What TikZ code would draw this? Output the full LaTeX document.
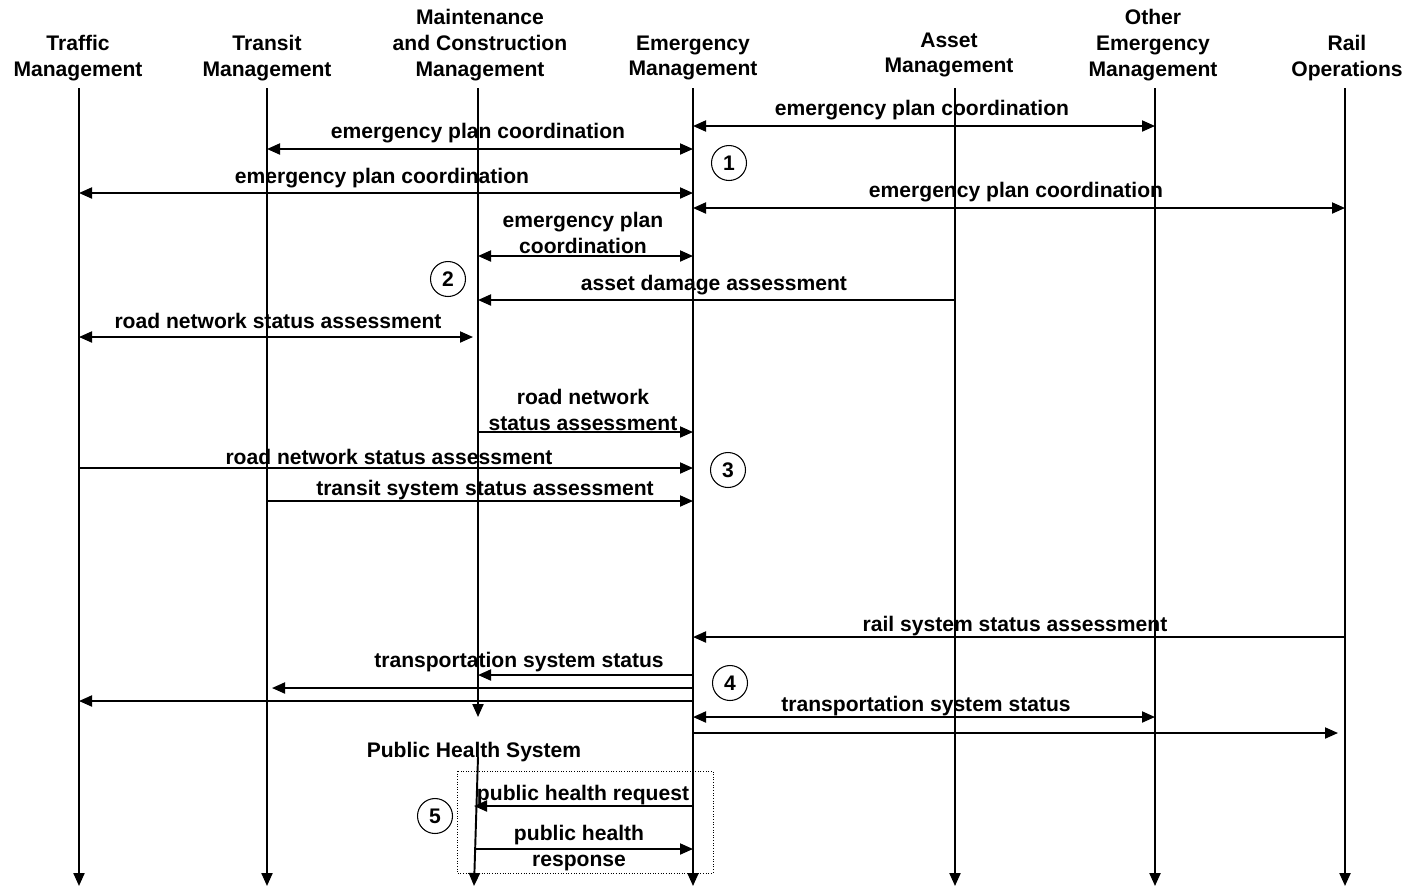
\documentclass[tikz,border=0pt]{standalone}
\usepackage{fontspec}
\setmainfont{Liberation Sans}
\usetikzlibrary{arrows.meta}

\begin{document}
\begin{tikzpicture}[x=0.02cm, y=-0.02cm,
    every node/.style={font=\fontsize{12}{14.7}\selectfont\bfseries, align=center},
    tip/.style={-{Triangle[length=7.4pt, width=6.3pt]}},
    life/.style={tip, line width=1.1pt},
    msg/.style={tip, line width=1pt},
    twoway/.style={msg, {Triangle[length=7.4pt, width=6.3pt]}-{Triangle[length=7.4pt, width=6.3pt]}},
    stepno/.style={draw, circle, line width=0.6pt, minimum size=0.7cm, inner sep=0pt}]
  \useasboundingbox (0,0) rectangle (1412,890);

  % actors and their lifelines
  \foreach \n/\lx/\ey/\hx/\hy/\txt in {traffic/79/886/78/58/{Traffic\\Management},
      transit/267/886/267/58/{Transit\\Management},
      maint/478/717/480/45/{Maintenance\\and Construction\\Management},
      emerg/693/886/693/58/{Emergency\\Management},
      asset/955/886/949/55/{Asset\\Management},
      other/1155/886/1153/45/{Other\\Emergency\\Management},
      rail/1345/886/1347/58/{Rail\\Operations}} {
    \node (\n-head) at (\hx,\hy) {\txt};
    \coordinate (\n) at (\lx,88);
    \coordinate (\n-end) at (\lx,\ey);
    \draw[life] (\n) -- (\n-end);
  }

  % public health joins late
  \node (phs-head) at (474,752) {Public Health System};
  \coordinate (phs) at (478,757);
  \coordinate (phs-end) at (474,886);
  \draw[life] (phs) -- (phs-end);

  % step numbers
  \foreach \k/\x/\y in {1/729/163, 2/448/279, 3/728/470, 4/730/683, 5/435/816}
    \node[stepno] (step\k) at (\x,\y) {\k};

  % 1: plan coordination
  \draw[twoway] (emerg |- 0,126) -- (other |- 0,126);
  \node (l1) at (922,110) {emergency plan coordination};
  \draw[twoway] (transit |- 0,149) -- (emerg |- 0,149);
  \node (l2) at (478,133) {emergency plan coordination};
  \draw[twoway] (traffic |- 0,193) -- (emerg |- 0,193);
  \node (l3) at (382,178) {emergency plan coordination};
  \draw[twoway] (emerg |- 0,208) -- (rail |- 0,208);
  \node (l4) at (1016,192) {emergency plan coordination};

  % 2: damage and road assessment
  \draw[twoway] (maint |- 0,256) -- (emerg |- 0,256);
  \node (l5) at (583,233) {emergency plan\\coordination};
  \draw[msg] (asset |- 0,300) -- (maint |- 0,300);
  \node (l6) at (714,285) {asset damage assessment};
  \draw[twoway, shorten >=0.1cm] (traffic |- 0,337) -- (maint |- 0,337);
  \node (l7) at (278,321) {road network status assessment};

  % 3: status reports to emergency management
  \draw[msg] (maint |- 0,432) -- (emerg |- 0,432);
  \node (l8) at (583,410) {road network\\status assessment};
  \draw[msg] (traffic |- 0,468) -- (emerg |- 0,468);
  \node (l9) at (389,457) {road network status assessment};
  \draw[msg] (transit |- 0,501) -- (emerg |- 0,501);
  \node (l10) at (485,490) {transit system status assessment};

  % 4: transportation system status
  \draw[msg] (rail |- 0,637) -- (emerg |- 0,637);
  \node (l11) at (1015,626) {rail system status assessment};
  \draw[msg] (emerg |- 0,675) -- (maint |- 0,675);
  \node (l12) at (519,662) {transportation system status};
  \draw[msg, shorten >=0.1cm] (emerg |- 0,688) -- (transit |- 0,688);
  \draw[msg] (emerg |- 0,701) -- (traffic |- 0,701);
  \draw[twoway] (emerg |- 0,717) -- (other |- 0,717);
  \node (l13) at (926,706) {transportation system status};
  \draw[msg, shorten >=0.14cm] (emerg |- 0,733) -- (rail |- 0,733);

  % 5: public health
  \draw[densely dotted, line width=0.5pt] (457,771) rectangle (713,873);
  \draw[msg] (emerg |- 0,806) -- (phs-end |- 0,806);
  \node (l14) at (583,795) {public health request};
  \draw[msg] (phs-end |- 0,849) -- (emerg |- 0,849);
  \node (l15) at (579,848) {public health\\response};
\end{tikzpicture}
\end{document}
